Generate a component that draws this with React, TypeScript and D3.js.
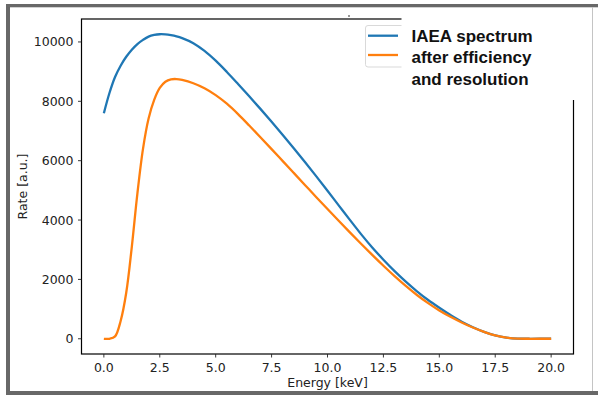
import React from "react";
import * as d3 from "d3";

// Energy grid [keV]
const energy: number[] = [
  0, 0.25, 0.5, 0.75, 1.0, 1.25, 1.5, 1.75, 2.0, 2.25, 2.5, 2.75, 3.0, 3.25, 3.5,
  4.0, 4.5, 5.0, 5.5, 6.0, 6.5, 7.0, 7.5, 8.0, 8.5, 9.0, 9.5, 10.0, 10.5, 11.0,
  11.5, 12.0, 12.5, 13.0, 13.5, 14.0, 14.5, 15.0, 15.5, 16.0, 16.5, 17.0, 17.5,
  18.0, 18.5, 19.0, 19.5, 20.0,
];

// IAEA spectrum rate [a.u.]
const iaea: number[] = [
  7600, 8280, 8820, 9200, 9500, 9740, 9930, 10070, 10180, 10235, 10260, 10255, 10230, 10190, 10130,
  9960, 9700, 9370, 8990, 8585, 8170, 7745, 7310, 6865, 6410, 5945, 5470, 4985, 4495, 4005,
  3525, 3075, 2665, 2280, 1925, 1600, 1305, 1045, 800, 575, 390, 235, 115,
  40, 6, 0, 0, 0,
];

// Spectrum after detector efficiency and resolution [a.u.]
const folded: number[] = [
  0, 0, 80, 600, 1550, 3100, 4900, 6400, 7420, 8050, 8450, 8660, 8740, 8750, 8720,
  8610, 8440, 8210, 7920, 7570, 7185, 6790, 6390, 5985, 5580, 5175, 4770, 4370, 3975, 3585,
  3200, 2825, 2460, 2110, 1780, 1475, 1200, 955, 740, 550, 380, 235, 115,
  40, 6, 0, 0, 0,
];

const xTicks: number[] = [0, 2.5, 5, 7.5, 10, 12.5, 15, 17.5, 20];
const yTicks: number[] = [0, 2000, 4000, 6000, 8000, 10000];
const legendLabels: string[] = ["IAEA spectrum", "after efficiency", "and resolution"];
const seriesColors: string[] = ["#1f77b4", "#ff7f0e"];

const W = 598;
const H = 395;
const plot = { left: 81.5, right: 573.5, top: 19, bottom: 354 };

export default function App() {
  const xMin = d3.min(energy)!;
  const xMax = d3.max(energy)!;
  const xPad = (xMax - xMin) * 0.05;
  const x = d3.scaleLinear().domain([xMin - xPad, xMax + xPad]).range([plot.left, plot.right]);

  const yMax = d3.max([...iaea, ...folded])!;
  const yMin = d3.min([...iaea, ...folded])!;
  const yPad = (yMax - yMin) * 0.05;
  const y = d3.scaleLinear().domain([yMin - yPad, yMax + yPad]).range([plot.bottom, plot.top]);

  const line = d3
    .line<number>()
    .x((_, i) => x(energy[i]))
    .y((d) => y(d))
    .curve(d3.curveCatmullRom.alpha(0.5));

  const tickFont = "'DejaVu Sans', sans-serif";
  const ink = "#222";

  return (
    <svg
      width={W}
      height={H}
      style={{ position: "absolute", left: 0, top: 0, background: "#fff" }}
    >
      {/* curves */}
      <path d={line(iaea)!} fill="none" stroke={seriesColors[0]} strokeWidth={2.3} strokeLinejoin="round" />
      <path d={line(folded)!} fill="none" stroke={seriesColors[1]} strokeWidth={2.3} strokeLinejoin="round" />

      {/* axes frame */}
      <rect
        x={plot.left}
        y={plot.top}
        width={plot.right - plot.left}
        height={plot.bottom - plot.top}
        fill="none"
        stroke="#000"
        strokeWidth={1.2}
      />

      {/* x ticks */}
      {xTicks.map((t) => (
        <g key={"x" + t}>
          <line x1={x(t)} x2={x(t)} y1={plot.bottom} y2={plot.bottom + 3.5} stroke={ink} strokeWidth={0.9} />
          <text
            x={x(t)}
            y={372}
            textAnchor="middle"
            fontFamily={tickFont}
            fontSize={12.5}
            fill={ink}
          >
            {t.toFixed(1)}
          </text>
        </g>
      ))}

      {/* y ticks */}
      {yTicks.map((t) => (
        <g key={"y" + t}>
          <line x1={plot.left - 3.5} x2={plot.left} y1={y(t)} y2={y(t)} stroke={ink} strokeWidth={0.9} />
          <text
            x={73.5}
            y={y(t) + 4.5}
            textAnchor="end"
            fontFamily={tickFont}
            fontSize={12.5}
            fill={ink}
          >
            {t}
          </text>
        </g>
      ))}

      {/* axis titles */}
      <text
        x={(plot.left + plot.right) / 2}
        y={386.5}
        textAnchor="middle"
        fontFamily={tickFont}
        fontSize={12.5}
        fill={ink}
      >
        Energy [keV]
      </text>
      <text
        transform={`translate(27, ${(plot.top + plot.bottom) / 2}) rotate(-90)`}
        textAnchor="middle"
        fontFamily={tickFont}
        fontSize={12.5}
        fill={ink}
      >
        Rate [a.u.]
      </text>

      {/* legend frame and handles */}
      <rect x={365.5} y={25.5} width={60} height={41.5} rx={2.5} fill="#fff" stroke="#d9d9d9" strokeWidth={1} />
      <line x1={368} x2={398} y1={35.7} y2={35.7} stroke={seriesColors[0]} strokeWidth={2.3} />
      <line x1={368} x2={398} y1={55} y2={55} stroke={seriesColors[1]} strokeWidth={2.3} />

      {/* label panel over the upper-right corner */}
      <rect x={401.5} y={12} width={180} height={88} fill="#fff" />
      <rect x={348} y={15.5} width={2} height={1} fill="#333" />
      {legendLabels.map((s, i) => (
        <text
          key={s}
          x={411.5}
          y={41.7 + i * 21.7}
          fontFamily="'Liberation Sans', Arial, sans-serif"
          fontWeight="bold"
          fontSize={17}
          fill="#111"
        >
          {s}
        </text>
      ))}

      {/* outer frame */}
      <rect x={6} y={4} width={4} height={391} fill="#686868" />
      <rect x={6} y={4} width={592} height={3.3} fill="#686868" />
      <rect x={6} y={391} width={592} height={4} fill="#686868" />
      <line x1={592.5} x2={592.5} y1={7} y2={391} stroke="#c4c4c4" strokeWidth={1} />
    </svg>
  );
}
